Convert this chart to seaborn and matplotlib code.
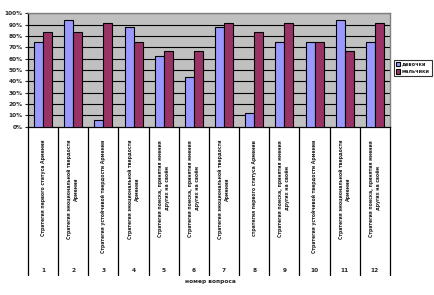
import matplotlib
matplotlib.use("Agg")
import matplotlib.pyplot as plt
import matplotlib.transforms as mtransforms
import seaborn as sns
import pandas as pd

questions = ["1", "2", "3", "4", "5", "6", "7", "8", "9", "10", "11", "12"]
labels = [
    "Стратегия первого статуса Армении",
    "Стратегия эмоциональной твердости\nАрмении",
    "Стратегия устойчивой твердости Армении",
    "Стратегия эмоциональной твердости\nАрмении",
    "Стратегия поиска, принятия мнения\nдругих на своём",
    "Стратегия поиска, принятия мнения\nдругих на своём",
    "Стратегия эмоциональной твердости\nАрмении",
    "стратегия первого статуса Армении",
    "Стратегия поиска, принятия мнения\nдругих на своём",
    "Стратегия устойчивой твердости Армении",
    "Стратегия эмоциональной твердости\nАрмении",
    "Стратегия поиска, принятия мнения\nдругих на своём",
]
girls = [75.0, 93.75, 6.25, 87.5, 62.5, 43.75, 87.5, 12.5, 75.0, 75.0, 93.75, 75.0]
boys = [83.3, 83.3, 91.7, 75.0, 66.7, 66.7, 91.7, 83.3, 91.7, 75.0, 66.7, 91.7]
series_names = ["девочки", "мальчики"]
yticks = [0, 10, 20, 30, 40, 50, 60, 70, 80, 90, 100]
xlabel = "номер вопроса"

df = pd.DataFrame({
    "q": questions * 2,
    "val": girls + boys,
    "s": [series_names[0]] * len(girls) + [series_names[1]] * len(boys),
})

sns.set_style("white")
plt.rcParams["font.family"] = ["DejaVu Sans"]

fig = plt.figure(figsize=(4.34, 2.95), dpi=100)
ax = fig.add_axes([28 / 434, 1 - 126.7 / 295, (390 - 28) / 434, (126.7 - 13.3) / 295])
ax.set_facecolor("#C0C0C0")

sns.barplot(data=df, x="q", y="val", hue="s", order=questions, hue_order=series_names,
            palette=["#9999FF", "#993366"], width=0.6, edgecolor="black", linewidth=0.8,
            saturation=1, ax=ax, zorder=3)

ax.set_ylim(0, 100)
ax.set_xlim(-0.5, len(questions) - 0.5)
ax.set_yticks(yticks)
ax.set_yticklabels([f"{t}%" for t in yticks], fontsize=4.2, fontweight="bold")
ax.tick_params(axis="y", length=2.5, width=0.8, pad=1.5, direction="out", left=True)
for t in yticks[1:]:
    ax.axhline(t, color="black", lw=0.8, zorder=1)
ax.set_xticks([])
ax.set_xlabel("")
ax.set_ylabel("")
for side in ["top", "right"]:
    ax.spines[side].set_color("#808080")
    ax.spines[side].set_linewidth(1.0)
for side in ["left", "bottom"]:
    ax.spines[side].set_color("black")
    ax.spines[side].set_linewidth(0.9)

trans = mtransforms.blended_transform_factory(ax.transData, ax.transAxes)
ax_h_px = 126.7 - 13.3
def ypix(p):
    return -(p - 126.7) / ax_h_px

for i in range(len(questions) + 1):
    ax.plot([i - 0.5, i - 0.5], [0, ypix(275)], color="black", lw=0.9,
            transform=trans, clip_on=False)
for i, (q, lab) in enumerate(zip(questions, labels)):
    ax.text(i, ypix(140), lab, rotation=90, transform=trans, ha="center", va="top",
            fontsize=3.3, fontweight="bold", linespacing=1.5, multialignment="center")
    ax.text(i, ypix(270), q, transform=trans, ha="center", va="center",
            fontsize=4.2, fontweight="bold")

fig.text(210 / 434, 1 - 282 / 295, xlabel, ha="center", va="center",
         fontsize=4.2, fontweight="bold")

handles, _ = ax.get_legend_handles_labels()
ax.get_legend().remove()
leg = fig.legend(handles, series_names, loc="upper left",
                 bbox_to_anchor=(394 / 434, 1 - 60 / 295), frameon=True, fancybox=False,
                 prop={"size": 3.6, "weight": "bold"}, handlelength=0.9, handleheight=0.9,
                 handletextpad=0.3, borderpad=0.35, labelspacing=0.5, borderaxespad=0)
leg.get_frame().set_edgecolor("black")
leg.get_frame().set_linewidth(0.8)

fig.savefig("out.png", dpi=100, facecolor="white")
